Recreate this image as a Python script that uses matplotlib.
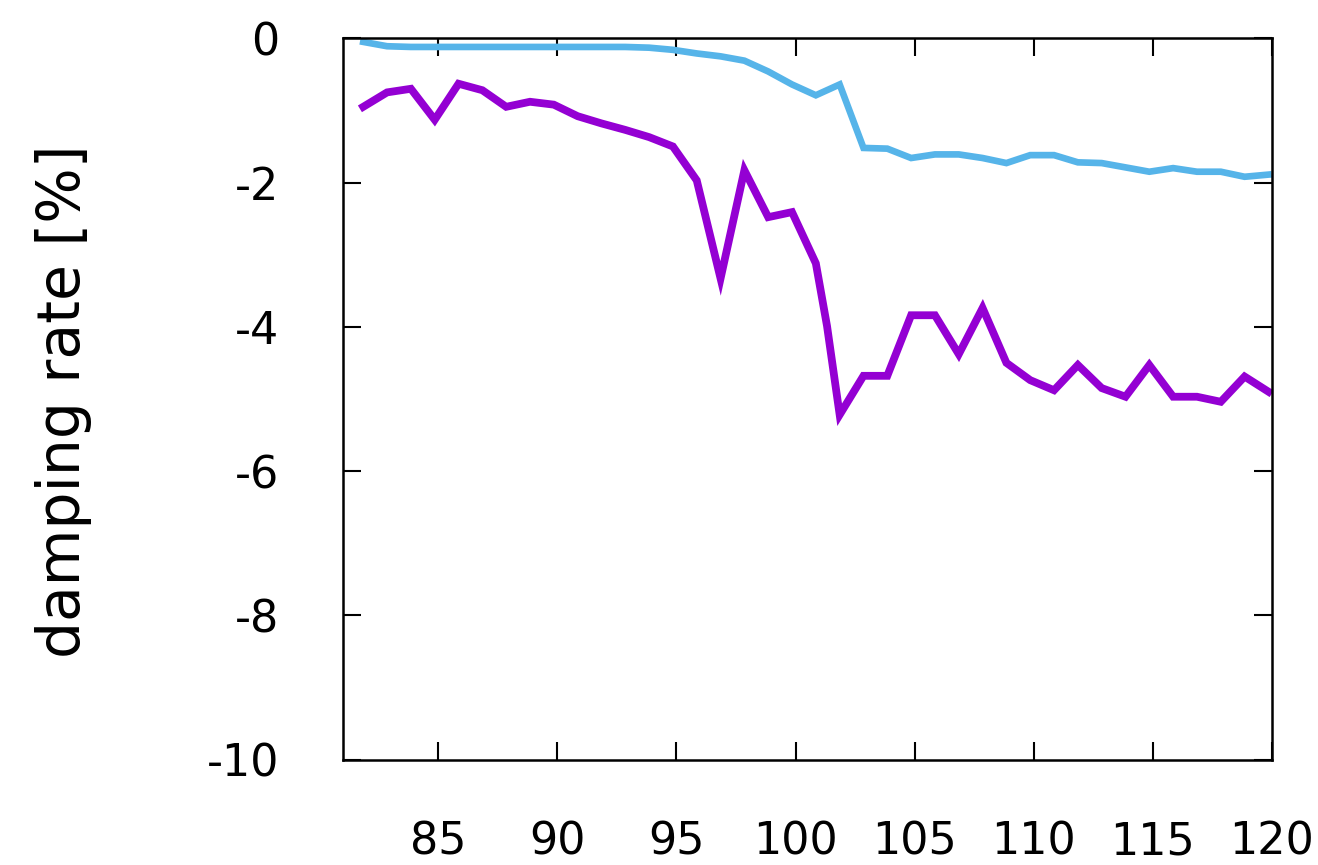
import matplotlib
matplotlib.use("Agg")
import matplotlib.pyplot as plt

# Sample positions
x_vals = [81.85, 82.85, 83.85, 84.85, 85.85, 86.85, 87.85, 88.85, 89.85, 90.85,
          91.85, 92.85, 93.85, 94.85, 95.85, 96.85, 97.85, 98.85, 99.85, 100.85,
          101.85, 102.85, 103.85, 104.85, 105.85, 106.85, 107.85, 108.85, 109.85, 110.85,
          111.85, 112.85, 113.85, 114.85, 115.85, 116.85, 117.85, 118.85, 119.85]

# Purple series has one extra sample inside the steep drop near 101.5
x_purple = [81.85, 82.85, 83.85, 84.85, 85.85, 86.85, 87.85, 88.85, 89.85, 90.85,
            91.85, 92.85, 93.85, 94.85, 95.85, 96.85, 97.85, 98.85, 99.85, 100.85,
            101.32, 101.85, 102.85, 103.85, 104.85, 105.85, 106.85, 107.85, 108.85, 109.85,
            110.85, 111.85, 112.85, 113.85, 114.85, 115.85, 116.85, 117.85, 118.85, 119.85]
damping_purple = [-0.95, -0.75, -0.70, -1.13, -0.63, -0.72, -0.95, -0.88, -0.92, -1.08,
                  -1.18, -1.27, -1.37, -1.50, -1.97, -3.33, -1.83, -2.48, -2.41, -3.12,
                  -3.99, -5.22, -4.68, -4.68, -3.84, -3.84, -4.38, -3.74, -4.50, -4.74,
                  -4.88, -4.53, -4.85, -4.97, -4.53, -4.97, -4.97, -5.04, -4.69, -4.90]

damping_blue = [-0.05, -0.11, -0.12, -0.12, -0.12, -0.12, -0.12, -0.12, -0.12, -0.12,
                -0.12, -0.12, -0.13, -0.16, -0.21, -0.25, -0.31, -0.46, -0.64, -0.79,
                -0.64, -1.52, -1.53, -1.66, -1.61, -1.61, -1.66, -1.73, -1.62, -1.62,
                -1.72, -1.73, -1.79, -1.85, -1.80, -1.85, -1.85, -1.92, -1.89]

x_ticks = [85, 90, 95, 100, 105, 110, 115, 120]
y_ticks = [0, -2, -4, -6, -8, -10]
y_label = "damping rate [%]"

plt.rcParams['font.family'] = ['DejaVu Sans']

fig = plt.figure(figsize=(13.18, 8.65), dpi=100)
ax = fig.add_axes([343 / 1318, 1 - 759.5 / 865, (1272 - 343) / 1318, (759.5 - 38.3) / 865])

ax.plot(x_vals, damping_blue, color="#56B4E9", lw=4.8, solid_joinstyle="miter")
ax.plot(x_purple, damping_purple, color="#9400D3", lw=5.6, solid_joinstyle="miter")

ax.set_xlim(81, 120)
ax.set_ylim(-10, 0)
ax.set_xticks(x_ticks)
ax.set_yticks(y_ticks)
ax.set_xticklabels([str(v) for v in x_ticks])
ax.set_yticklabels([str(v) for v in y_ticks])

ax.tick_params(axis="both", which="major", direction="in", length=13, width=1.5,
               top=True, right=True, labelsize=32, colors="black")
ax.tick_params(axis="x", pad=44)
ax.tick_params(axis="y", pad=46)

for sp in ax.spines.values():
    sp.set_linewidth(1.8)
    sp.set_color("black")

fig.text(64 / 1318, 1 - 401 / 865, y_label, rotation=90, ha="center", va="center",
         fontsize=42, color="black")

fig.savefig("out.png", dpi=100)
